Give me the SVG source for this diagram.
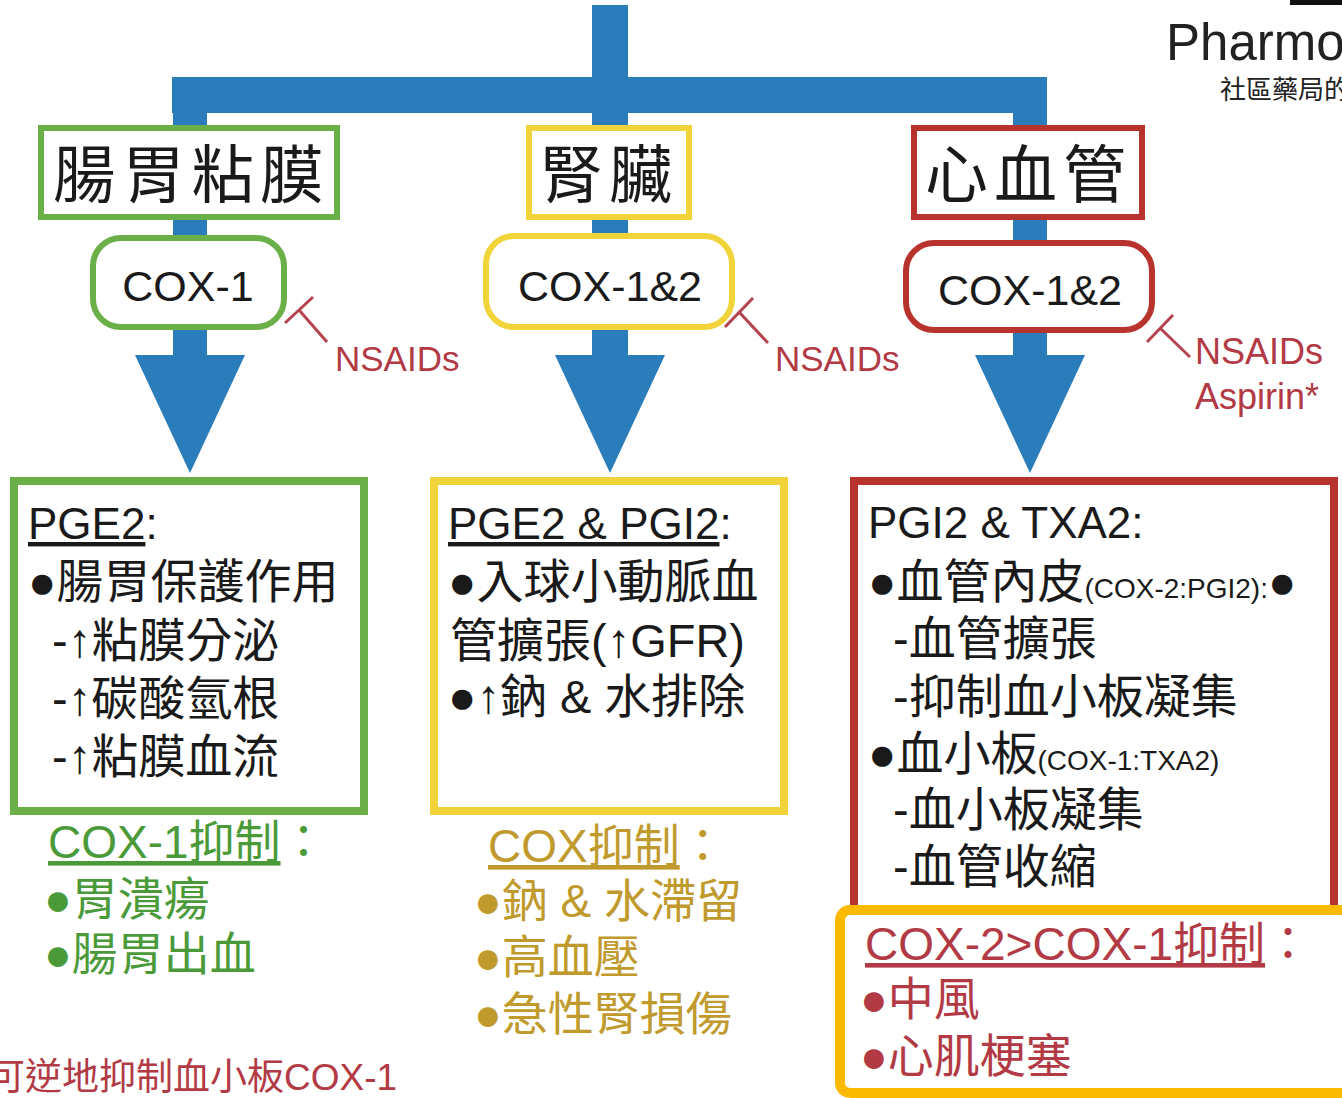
<svg xmlns="http://www.w3.org/2000/svg" width="1342" height="1098" viewBox="0 0 1342 1098">
<style>
.t{font-family:"Liberation Sans","Noto Sans CJK TC",sans-serif;}
.cjk{font-family:"Noto Sans CJK TC","Liberation Sans",sans-serif;}
.blk{fill:#1a1a1a;}
.red{fill:#b23a45;}
.grn{fill:#4a9a3a;}
.gld{fill:#c09a2c;}
.u{text-decoration:underline;}
.inh{stroke:#b5434e;stroke-width:3;fill:none;}
</style>
<rect width="1342" height="1098" fill="#ffffff"/>
<g id="connectors" fill="#2b7cbb">
  <rect x="592" y="5" width="36" height="130"/>
  <rect x="172" y="77" width="875" height="36"/>
  <rect x="173" y="100" width="34" height="260"/>
  <rect x="592" y="100" width="36" height="260"/>
  <rect x="1013" y="100" width="34" height="260"/>
  <polygon points="135,355 245,355 190,473"/>
  <polygon points="555,355 665,355 610,473"/>
  <polygon points="975,355 1085,355 1030,473"/>
</g>
<g id="logo">
  <rect x="1290" y="0" width="52" height="5" fill="#111"/>
  <text class="t" x="1166" y="60" font-size="51" fill="#222">Pharmo</text>
  <text class="cjk" x="1220" y="99" font-size="26" fill="#222">社區藥局的</text>
</g>
<g id="gi-title">
  <rect x="41" y="128" width="296" height="89" fill="#fff" stroke="#6aaf48" stroke-width="6"/>
  <text class="cjk blk" x="53" y="197" font-size="63" letter-spacing="6">腸胃粘膜</text>
</g>
<g id="kidney-title">
  <rect x="529" y="128" width="160" height="89" fill="#fff" stroke="#f0d43a" stroke-width="6"/>
  <text class="cjk blk" x="540" y="197" font-size="63" letter-spacing="6">腎臟</text>
</g>
<g id="cv-title">
  <rect x="914" y="128" width="228" height="89" fill="#fff" stroke="#b8332e" stroke-width="6"/>
  <text class="cjk blk" x="925" y="197" font-size="63" letter-spacing="6">心血管</text>
</g>
<g id="gi-cox">
  <rect x="93" y="238" width="191" height="89" rx="28" fill="#fff" stroke="#6aaf48" stroke-width="6"/>
  <text class="t blk" x="188" y="301" font-size="43" text-anchor="middle">COX-1</text>
</g>
<g id="kidney-cox">
  <rect x="486" y="236" width="246" height="91" rx="28" fill="#fff" stroke="#f0d43a" stroke-width="6"/>
  <text class="t blk" x="610" y="301" font-size="43" text-anchor="middle">COX-1&amp;2</text>
</g>
<g id="cv-cox">
  <rect x="906" y="243" width="246" height="87" rx="28" fill="#fff" stroke="#b8332e" stroke-width="6"/>
  <text class="t blk" x="1030" y="305" font-size="43" text-anchor="middle">COX-1&amp;2</text>
</g>
<g id="inhibit-gi">
  <line class="inh" x1="285" y1="323" x2="313" y2="297"/>
  <line class="inh" x1="299" y1="310" x2="327" y2="342"/>
  <text class="t red" x="335" y="371" font-size="35">NSAIDs</text>
</g>
<g id="inhibit-kidney">
  <line class="inh" x1="725" y1="327" x2="753" y2="298"/>
  <line class="inh" x1="739" y1="312" x2="768" y2="343"/>
  <text class="t red" x="775" y="371" font-size="35">NSAIDs</text>
</g>
<g id="inhibit-cv">
  <line class="inh" x1="1147" y1="342" x2="1173" y2="315"/>
  <line class="inh" x1="1160" y1="328" x2="1190" y2="357"/>
  <text class="t red" x="1195" y="364" font-size="36">NSAIDs</text>
  <text class="t red" x="1195" y="409" font-size="36">Aspirin*</text>
</g>
<g id="gi-effects">
  <rect x="14" y="481" width="350" height="330" fill="#fff" stroke="#6aaf48" stroke-width="8"/>
  <text class="t blk" x="28" y="539" font-size="44"><tspan class="u">PGE2</tspan>:</text>
  <text class="t blk" x="28" y="598" font-size="47">●腸胃保護作用</text>
  <text class="t blk" x="52" y="657" font-size="47">-↑粘膜分泌</text>
  <text class="t blk" x="52" y="715" font-size="47">-↑碳酸氫根</text>
  <text class="t blk" x="52" y="773" font-size="47">-↑粘膜血流</text>
</g>
<g id="kidney-effects">
  <rect x="434" y="481" width="350" height="330" fill="#fff" stroke="#f0d43a" stroke-width="8"/>
  <text class="t blk" x="448" y="539" font-size="44"><tspan class="u">PGE2 &amp; PGI2</tspan>:</text>
  <text class="t blk" x="448" y="598" font-size="47">●入球小動脈血</text>
  <text class="t blk" x="450" y="657" font-size="47">管擴張(↑GFR)</text>
  <text class="t blk" x="448" y="713" font-size="47">●↑鈉 &amp; 水排除</text>
</g>
<g id="cv-effects">
  <rect x="854" y="481" width="480" height="470" fill="#fff" stroke="#b8332e" stroke-width="8"/>
  <text class="t blk" x="868" y="538" font-size="44">PGI2 &amp; TXA2:</text>
  <text class="t blk" x="868" y="598" font-size="47">●血管內皮<tspan font-size="28">(COX-2:PGI2):</tspan>●</text>
  <text class="t blk" x="893" y="655" font-size="47">-血管擴張</text>
  <text class="t blk" x="893" y="713" font-size="47">-抑制血小板凝集</text>
  <text class="t blk" x="868" y="770" font-size="47">●血小板<tspan font-size="28">(COX-1:TXA2)</tspan></text>
  <text class="t blk" x="893" y="826" font-size="47">-血小板凝集</text>
  <text class="t blk" x="893" y="883" font-size="47">-血管收縮</text>
</g>
<g id="gi-risk">
  <text class="t grn" x="48" y="858" font-size="46"><tspan class="u">COX-1抑制</tspan>：</text>
  <text class="t grn" x="44" y="915" font-size="46">●胃潰瘍</text>
  <text class="t grn" x="44" y="970" font-size="46">●腸胃出血</text>
</g>
<g id="kidney-risk">
  <text class="t gld" x="488" y="862" font-size="46"><tspan class="u">COX抑制</tspan>：</text>
  <text class="t gld" x="474" y="917" font-size="46">●鈉 &amp; 水滯留</text>
  <text class="t gld" x="474" y="973" font-size="46">●高血壓</text>
  <text class="t gld" x="474" y="1030" font-size="46">●急性腎損傷</text>
</g>
<g id="cv-risk">
  <rect x="840" y="910" width="520" height="183" rx="10" fill="#fff" stroke="#fbb900" stroke-width="10"/>
  <text class="t red" x="865" y="960" font-size="46"><tspan class="u">COX-2&gt;COX-1抑制</tspan>：</text>
  <text class="t red" x="860" y="1015" font-size="46">●中風</text>
  <text class="t red" x="860" y="1072" font-size="46">●心肌梗塞</text>
</g>
<g id="footnote">
  <text class="t red" x="-12" y="1090" font-size="37">可逆地抑制血小板COX-1</text>
</g>
</svg>
